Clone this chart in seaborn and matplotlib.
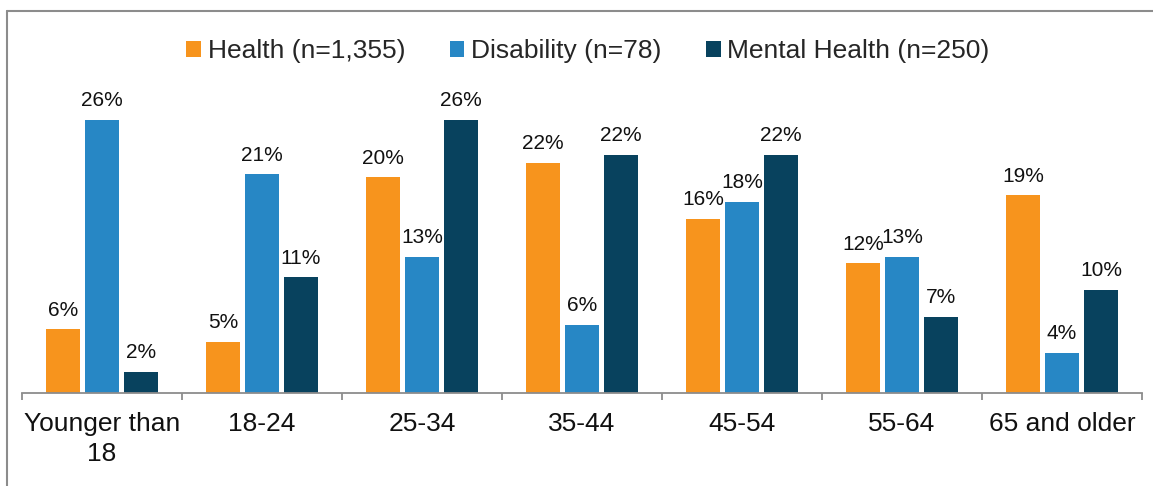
import matplotlib
matplotlib.use("Agg")
import matplotlib.pyplot as plt
from matplotlib.lines import Line2D
from matplotlib.ticker import FixedLocator
import seaborn as sns
import pandas as pd

# Age groups and share of each program's clients (%)
age_groups = ["Younger than 18", "18-24", "25-34", "35-44", "45-54", "55-64", "65 and older"]
tick_labels = ["Younger than\n18", "18-24", "25-34", "35-44", "45-54", "55-64", "65 and older"]
programs = ["Health (n=1,355)", "Disability (n=78)", "Mental Health (n=250)"]
health = [6.0, 4.8, 20.3, 21.7, 16.4, 12.2, 18.6]
disability = [25.7, 20.6, 12.8, 6.4, 18.0, 12.8, 3.8]
mental_health = [2.0, 10.9, 25.7, 22.4, 22.4, 7.2, 9.7]
colors = ["#F7941D", "#2787C5", "#08425E"]

df = pd.DataFrame({
    "age": age_groups * 3,
    "program": [p for p in programs for _ in age_groups],
    "pct": health + disability + mental_health,
})

sns.set_style("white")
plt.rcParams["font.family"] = ["Liberation Sans", "DejaVu Sans"]

W, H = 1153, 486
fig = plt.figure(figsize=(W / 100, H / 100), dpi=100)
ax = fig.add_axes([22 / W, (H - 393) / H, 1120 / W, 0.65])

sns.barplot(data=df, x="age", y="pct", hue="program", order=age_groups,
            hue_order=programs, palette=colors, width=0.73, gap=0.12,
            linewidth=0, saturation=1, ax=ax)

ax.set_ylim(0, 0.65 * H / 10.62)
ax.set_xlim(-0.5, len(age_groups) - 0.5)

for cont in ax.containers:
    ax.bar_label(cont, fmt="{:.0f}%", padding=7, fontsize=15, color="#111111")

# axis styling
grey = "#8C8C8C"
for side in ["left", "right", "top"]:
    ax.spines[side].set_visible(False)
ax.spines["bottom"].set_color(grey)
ax.spines["bottom"].set_linewidth(1.3)
ax.set_yticks([])
ax.set_xticks(range(len(age_groups)))
ax.set_xticklabels(tick_labels, fontsize=19, color="#111111", linespacing=1.3)
ax.xaxis.set_minor_locator(FixedLocator([i - 0.5 for i in range(len(age_groups) + 1)]))
ax.tick_params(axis="x", which="major", length=0, pad=14)
ax.tick_params(axis="x", which="minor", length=5, width=1.3, color=grey, direction="out", bottom=True)
ax.set_xlabel("")
ax.set_ylabel("")

# legend across the top
handles, labels = ax.get_legend_handles_labels()
ax.get_legend().remove()
fig.legend(handles, labels, loc="center", bbox_to_anchor=(588 / W, 1 - 51 / H),
           ncol=3, frameon=False, fontsize=19, handlelength=0.55, handleheight=0.55,
           handletextpad=0.25, columnspacing=1.7, borderaxespad=0)

# outer frame around the chart area
x0, ytop = 7 / W, 1 - 11 / H
fig.add_artist(Line2D([x0, 1.0], [ytop, ytop], transform=fig.transFigure, color=grey, linewidth=1.5))
fig.add_artist(Line2D([x0, x0], [0, ytop], transform=fig.transFigure, color=grey, linewidth=1.5))

fig.savefig("out.png", dpi=100)
